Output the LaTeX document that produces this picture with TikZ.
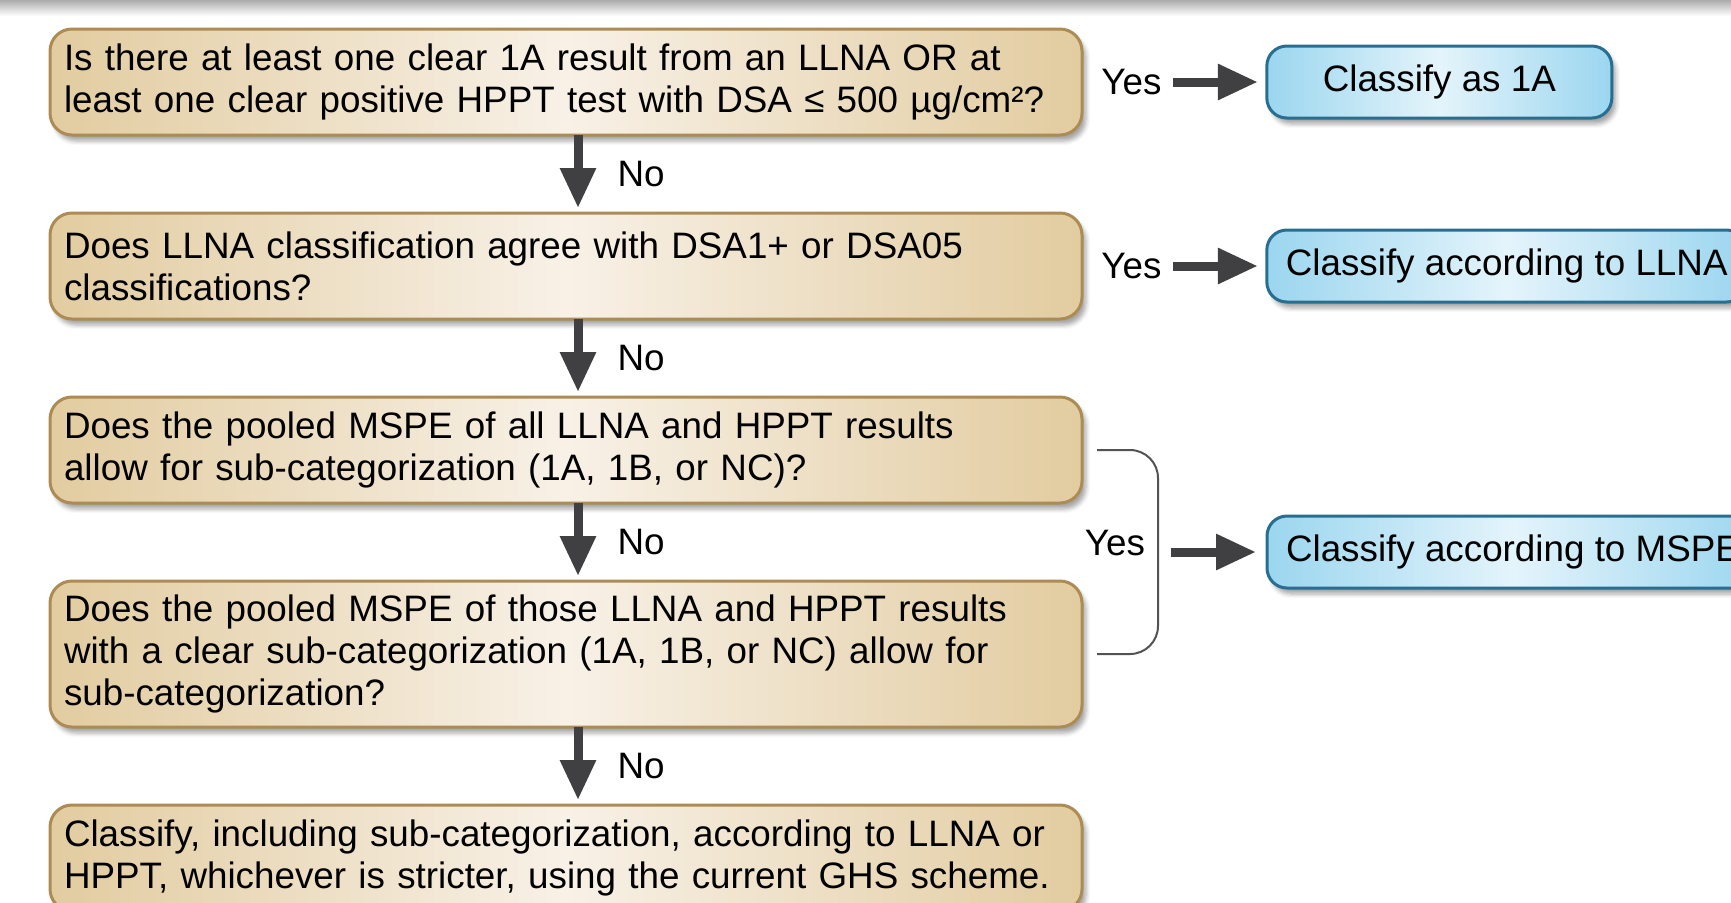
\documentclass[tikz,border=0pt]{standalone}
\usepackage{fontspec}
\setmainfont{Liberation Sans}
\usepackage{tikz}
\usetikzlibrary{positioning}
\usetikzlibrary{calc}
\usetikzlibrary{arrows.meta}
\usetikzlibrary{shadows.blur}
\definecolor{tanedge}{RGB}{226,204,160}
\definecolor{tanmid}{RGB}{248,241,231}
\definecolor{tanline}{RGB}{172,140,84}
\definecolor{blueedge}{RGB}{155,214,239}
\definecolor{bluemid}{RGB}{228,244,251}
\definecolor{blueline}{RGB}{40,110,145}
\definecolor{arrowgray}{RGB}{64,64,66}
\tikzset{question/.style={draw=tanline,line width=1.5pt,rounded corners=11pt,left color=tanedge,right color=tanedge,middle color=tanmid,text width=502pt,align=left,inner xsep=7pt,outer sep=0pt,minimum height=53pt,blur shadow={shadow xshift=2pt,shadow yshift=-3pt,shadow opacity=35}},
classify/.style={draw=blueline,line width=1.5pt,rounded corners=10pt,left color=blueedge,right color=blueedge,middle color=bluemid,minimum height=36pt,inner xsep=9.5pt,outer sep=0pt,blur shadow={shadow xshift=2pt,shadow yshift=-3pt,shadow opacity=35}},
fatarrow/.style={draw=arrowgray,line width=4.5pt,-{Triangle[length=20pt,width=17pt]}},
answer/.style={inner sep=0pt}}

\begin{document}
\begin{tikzpicture}[x=0.5pt,y=-0.5pt,font=\fontsize{18.4}{21}\selectfont]
\path[use as bounding box,clip] (0,0) rectangle (1731,902);
\fill[top color=gray!65,bottom color=white,draw=none] (0,0) rectangle (1731,16);

\node (q1) at (566,82) [question] {Is there at least one clear 1A result from an LLNA OR at\\least one clear positive HPPT test with DSA ≤ 500 µg/cm²?};
\node (q2) [question, below=39pt of q1] {Does LLNA classification agree with DSA1+ or DSA05\\classifications?};
\node (q3) [question, below=39pt of q2] {Does the pooled MSPE of all LLNA and HPPT results\\allow for sub-categorization (1A, 1B, or NC)?};
\node (q4) [question, below=39pt of q3, minimum height=73pt] {Does the pooled MSPE of those LLNA and HPPT results\\with a clear sub-categorization (1A, 1B, or NC) allow for\\sub-categorization?};
\node (q5) [question, below=39pt of q4] {Classify, including sub-categorization, according to LLNA or\\HPPT, whichever is stricter, using the current GHS scheme.};

\foreach \a/\b in {q1/q2, q2/q3, q3/q4, q4/q5} {
\draw[fatarrow, shorten >=2.5pt] ([xshift=6pt]\a.south) -- ([xshift=6pt]\b.north) node (no-\a) [answer, midway, right=17.5pt] {No};
}

\node (y1) [answer, right=9.5pt of q1] {Yes};
\node (c1) [classify, minimum width=172.5pt, right=52.5pt of y1] {Classify as 1A};
\draw[fatarrow, shorten <=5.5pt, shorten >=4.5pt] (y1.east) -- (c1.west);

\node (y2) [answer, right=9.5pt of q2] {Yes};
\node (c2) [classify, right=52.5pt of y2] {Classify according to LLNA};
\draw[fatarrow, shorten <=5.5pt, shorten >=4.5pt] (y2.east) -- (c2.west);

\coordinate (br) at ($(q3.east)!0.5!(q4.east)$);
\draw[arrowgray!90, line width=1pt, rounded corners=14pt] ([xshift=7.5pt]q3.east) -| ([xshift=38pt]br) |- ([xshift=7.5pt]q4.east);
\node (y3) at ([xshift=16.5pt,yshift=4.5pt]br) [answer] {Yes};
\node (c3) [classify, right=92.5pt of br] {Classify according to MSPE};
\draw[fatarrow, shorten >=5.5pt] ([xshift=44.5pt]br) -- (c3.west);

\end{tikzpicture}
\end{document}
